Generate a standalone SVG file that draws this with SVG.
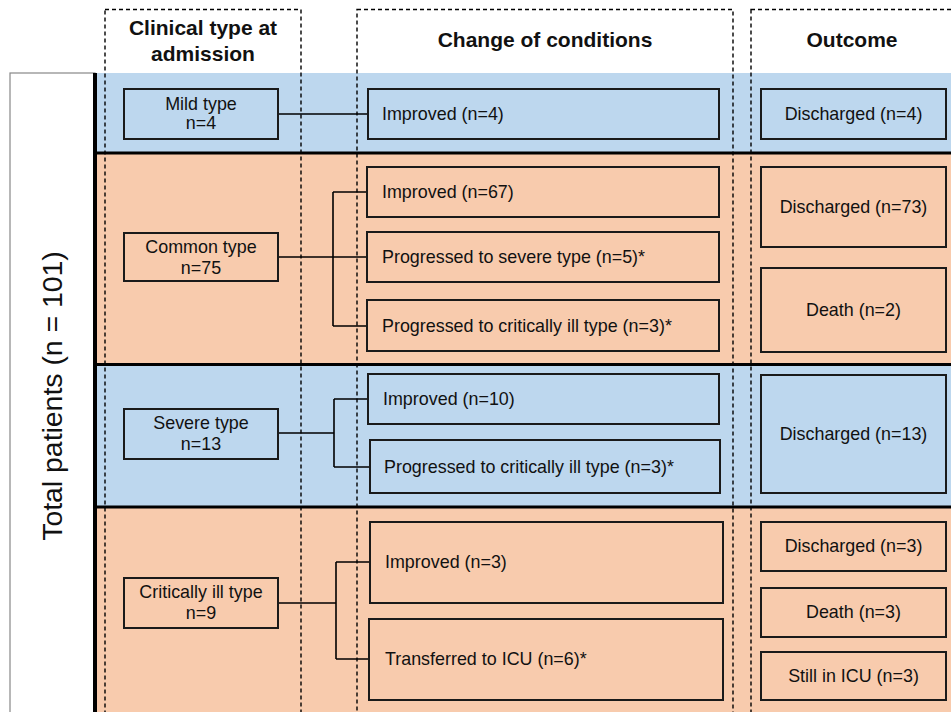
<svg xmlns="http://www.w3.org/2000/svg" width="951" height="712" viewBox="0 0 951 712">
<style>
text{font-family:"Liberation Sans",Arial,sans-serif;fill:#111}
.hd{font-size:21px;font-weight:bold;text-anchor:middle}
.t{font-size:17.9px}
.c{text-anchor:middle}
.blue{fill:#bdd7ee}
.orng{fill:#f8cbad}
.box{stroke:#1a1a1a;stroke-width:2}
.sep{stroke:#000;stroke-width:3}
.col{fill:none;stroke:#000;stroke-width:1.4;stroke-dasharray:4 3}
.con{fill:none;stroke:#000;stroke-width:1.6}
</style>
<rect width="951" height="712" fill="#fff"/>
<g id="bands">
<rect class="blue" x="95" y="73" width="860" height="80"/>
<rect class="orng" x="95" y="153" width="860" height="211"/>
<rect class="blue" x="95" y="364" width="860" height="143"/>
<rect class="orng" x="95" y="507" width="860" height="210"/>
<line class="sep" x1="95" y1="153" x2="951" y2="153"/>
<line class="sep" x1="95" y1="364.5" x2="951" y2="364.5"/>
<line class="sep" x1="95" y1="507" x2="951" y2="507"/>
</g>
<g id="total">
<rect x="10" y="73" width="85" height="650" fill="#fff" stroke="#888" stroke-width="1.2"/>
<line x1="95" y1="73" x2="95" y2="712" stroke="#000" stroke-width="4"/>
<text x="0" y="0" transform="translate(62,396) rotate(-90)" text-anchor="middle" font-size="28.4">Total patients (n = 101)</text>
</g>
<g id="columns">
<rect class="col" x="105" y="9.5" width="196" height="720"/>
<rect class="col" x="357" y="9.5" width="376" height="720"/>
<rect class="col" x="751" y="9.5" width="220" height="720"/>
<text class="hd" x="203" y="35">Clinical type at</text>
<text class="hd" x="203" y="61">admission</text>
<text class="hd" x="545" y="47">Change of conditions</text>
<text class="hd" x="852" y="47">Outcome</text>
</g>
<g id="connectors">
<path class="con" d="M278 114H368"/>
<path class="con" d="M278 257H367M333 192V326M333 192H367M333 326H367"/>
<path class="con" d="M278 433H334M334 399V467M334 399H368M334 467H370"/>
<path class="con" d="M278 603H336M336 562V659M336 562H370M336 659H370"/>
</g>
<g id="mild">
<rect class="box blue" x="124" y="89" width="154" height="50"/>
<text class="t c" x="201" y="110">Mild type</text>
<text class="t c" x="201" y="129">n=4</text>
</g>
<g id="mild-improved">
<rect class="box blue" x="368" y="89" width="351" height="50"/>
<text class="t" x="382" y="120">Improved (n=4)</text>
</g>
<g id="mild-discharged">
<rect class="box blue" x="761" y="89" width="185" height="50"/>
<text class="t c" x="853.5" y="120">Discharged (n=4)</text>
</g>
<g id="common">
<rect class="box orng" x="124" y="233" width="154" height="48"/>
<text class="t c" x="201" y="253">Common type</text>
<text class="t c" x="201" y="274">n=75</text>
</g>
<g id="common-improved">
<rect class="box orng" x="367" y="167" width="352" height="50"/>
<text class="t" x="382" y="198">Improved (n=67)</text>
</g>
<g id="common-severe">
<rect class="box orng" x="367" y="232" width="352" height="50"/>
<text class="t" x="382" y="263">Progressed to severe type (n=5)*</text>
</g>
<g id="common-critical">
<rect class="box orng" x="367" y="300" width="352" height="51"/>
<text class="t" x="382" y="332">Progressed to critically ill type (n=3)*</text>
</g>
<g id="common-discharged">
<rect class="box orng" x="761" y="167" width="185" height="80"/>
<text class="t c" x="853.5" y="213">Discharged (n=73)</text>
</g>
<g id="common-death">
<rect class="box orng" x="761" y="268" width="185" height="84"/>
<text class="t c" x="853.5" y="316">Death (n=2)</text>
</g>
<g id="severe">
<rect class="box blue" x="124" y="409" width="154" height="50"/>
<text class="t c" x="201" y="429">Severe type</text>
<text class="t c" x="201" y="450">n=13</text>
</g>
<g id="severe-improved">
<rect class="box blue" x="368" y="374" width="351" height="50"/>
<text class="t" x="383" y="405">Improved (n=10)</text>
</g>
<g id="severe-critical">
<rect class="box blue" x="370" y="440" width="350" height="53"/>
<text class="t" x="384" y="473">Progressed to critically ill type (n=3)*</text>
</g>
<g id="severe-discharged">
<rect class="box blue" x="761" y="375" width="185" height="118"/>
<text class="t c" x="853.5" y="440">Discharged (n=13)</text>
</g>
<g id="critical">
<rect class="box orng" x="124" y="578" width="154" height="50"/>
<text class="t c" x="201" y="598">Critically ill type</text>
<text class="t c" x="201" y="619">n=9</text>
</g>
<g id="critical-improved">
<rect class="box orng" x="370" y="522" width="353" height="81"/>
<text class="t" x="385" y="568">Improved (n=3)</text>
</g>
<g id="critical-icu">
<rect class="box orng" x="369" y="619" width="354" height="81"/>
<text class="t" x="385" y="665">Transferred to ICU (n=6)*</text>
</g>
<g id="critical-discharged">
<rect class="box orng" x="761" y="522" width="185" height="49"/>
<text class="t c" x="853.5" y="552">Discharged (n=3)</text>
</g>
<g id="critical-death">
<rect class="box orng" x="761" y="588" width="185" height="49"/>
<text class="t c" x="853.5" y="618">Death (n=3)</text>
</g>
<g id="critical-still">
<rect class="box orng" x="761" y="652" width="185" height="48"/>
<text class="t c" x="853.5" y="682">Still in ICU (n=3)</text>
</g>
</svg>
